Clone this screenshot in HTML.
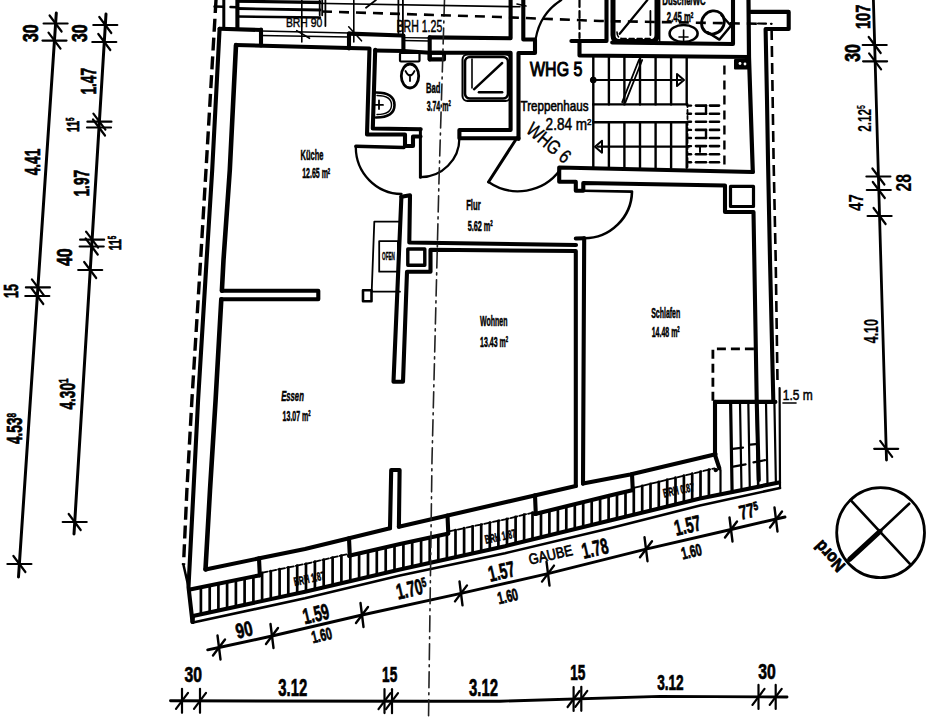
<!DOCTYPE html>
<html><head><meta charset="utf-8"><style>
html,body{margin:0;padding:0;background:#fff;overflow:hidden;}
svg{display:block;}
text{font-family:"Liberation Sans",sans-serif;}
</style></head><body>
<svg width="941" height="720" viewBox="0 0 941 720">
<rect width="941" height="720" fill="#fff"/>
<g stroke="#000" stroke-linecap="round" stroke-linejoin="round" fill="none">
<polyline points="56.3,13.0 18.5,577.0" stroke-width="3" fill="none" />
<polyline points="106.0,14.0 74.0,534.0" stroke-width="3" fill="none" />
<line x1="43.6" y1="23.5" x2="67.6" y2="23.5" stroke-width="2.2" />
<line x1="49.6" y1="15.5" x2="61.6" y2="31.5" stroke-width="2.2" />
<line x1="42.5" y1="40.6" x2="66.5" y2="40.6" stroke-width="2.2" />
<line x1="48.5" y1="32.6" x2="60.5" y2="48.6" stroke-width="2.2" />
<line x1="25.9" y1="287.4" x2="49.9" y2="287.4" stroke-width="2.2" />
<line x1="31.9" y1="279.4" x2="43.9" y2="295.4" stroke-width="2.2" />
<line x1="25.3" y1="296.0" x2="49.3" y2="296.0" stroke-width="2.2" />
<line x1="31.3" y1="288.0" x2="43.3" y2="304.0" stroke-width="2.2" />
<line x1="7.4" y1="564.0" x2="31.4" y2="564.0" stroke-width="2.2" />
<line x1="13.4" y1="556.0" x2="25.4" y2="572.0" stroke-width="2.2" />
<line x1="93.3" y1="25.0" x2="117.3" y2="25.0" stroke-width="2.2" />
<line x1="99.3" y1="17.0" x2="111.3" y2="33.0" stroke-width="2.2" />
<line x1="92.3" y1="42.0" x2="116.3" y2="42.0" stroke-width="2.2" />
<line x1="98.3" y1="34.0" x2="110.3" y2="50.0" stroke-width="2.2" />
<line x1="87.4" y1="121.7" x2="111.4" y2="121.7" stroke-width="2.2" />
<line x1="93.4" y1="113.7" x2="105.4" y2="129.7" stroke-width="2.2" />
<line x1="87.0" y1="127.5" x2="111.0" y2="127.5" stroke-width="2.2" />
<line x1="93.0" y1="119.5" x2="105.0" y2="135.5" stroke-width="2.2" />
<line x1="80.1" y1="239.7" x2="104.1" y2="239.7" stroke-width="2.2" />
<line x1="86.1" y1="231.7" x2="98.1" y2="247.7" stroke-width="2.2" />
<line x1="79.7" y1="246.5" x2="103.7" y2="246.5" stroke-width="2.2" />
<line x1="85.7" y1="238.5" x2="97.7" y2="254.5" stroke-width="2.2" />
<line x1="78.2" y1="270.0" x2="102.2" y2="270.0" stroke-width="2.2" />
<line x1="84.2" y1="262.0" x2="96.2" y2="278.0" stroke-width="2.2" />
<line x1="62.7" y1="522.0" x2="86.7" y2="522.0" stroke-width="2.2" />
<line x1="68.7" y1="514.0" x2="80.7" y2="530.0" stroke-width="2.2" />
<polyline points="873.4,0.0 886.5,460.0" stroke-width="2.8" fill="none" />
<line x1="862.7" y1="45.0" x2="886.7" y2="45.0" stroke-width="2.2" />
<line x1="868.7" y1="37.0" x2="880.7" y2="53.0" stroke-width="2.2" />
<line x1="863.1" y1="61.3" x2="887.1" y2="61.3" stroke-width="2.2" />
<line x1="869.1" y1="53.3" x2="881.1" y2="69.3" stroke-width="2.2" />
<line x1="866.4" y1="176.5" x2="890.4" y2="176.5" stroke-width="2.2" />
<line x1="872.4" y1="168.5" x2="884.4" y2="184.5" stroke-width="2.2" />
<line x1="866.8" y1="190.0" x2="890.8" y2="190.0" stroke-width="2.2" />
<line x1="872.8" y1="182.0" x2="884.8" y2="198.0" stroke-width="2.2" />
<line x1="867.6" y1="216.0" x2="891.6" y2="216.0" stroke-width="2.2" />
<line x1="873.6" y1="208.0" x2="885.6" y2="224.0" stroke-width="2.2" />
<line x1="874.2" y1="448.8" x2="898.2" y2="448.8" stroke-width="2.2" />
<line x1="880.2" y1="440.8" x2="892.2" y2="456.8" stroke-width="2.2" />
<polyline points="170.5,700.8 420.0,701.2 500.0,701.2 660.0,696.4 787.0,697.0" stroke-width="2.9" fill="none" />
<line x1="182.0" y1="688.8" x2="182.0" y2="712.8" stroke-width="2.2" />
<line x1="176.0" y1="708.8" x2="188.0" y2="692.8" stroke-width="2.2" />
<line x1="200.0" y1="688.8" x2="200.0" y2="712.8" stroke-width="2.2" />
<line x1="194.0" y1="708.8" x2="206.0" y2="692.8" stroke-width="2.2" />
<line x1="384.5" y1="689.1" x2="384.5" y2="713.1" stroke-width="2.2" />
<line x1="378.5" y1="709.1" x2="390.5" y2="693.1" stroke-width="2.2" />
<line x1="392.0" y1="689.2" x2="392.0" y2="713.2" stroke-width="2.2" />
<line x1="386.0" y1="709.2" x2="398.0" y2="693.2" stroke-width="2.2" />
<line x1="573.6" y1="687.0" x2="573.6" y2="711.0" stroke-width="2.2" />
<line x1="567.6" y1="707.0" x2="579.6" y2="691.0" stroke-width="2.2" />
<line x1="581.3" y1="686.8" x2="581.3" y2="710.8" stroke-width="2.2" />
<line x1="575.3" y1="706.8" x2="587.3" y2="690.8" stroke-width="2.2" />
<line x1="758.5" y1="684.9" x2="758.5" y2="708.9" stroke-width="2.2" />
<line x1="752.5" y1="704.9" x2="764.5" y2="688.9" stroke-width="2.2" />
<line x1="775.7" y1="684.9" x2="775.7" y2="708.9" stroke-width="2.2" />
<line x1="769.7" y1="704.9" x2="781.7" y2="688.9" stroke-width="2.2" />
<polyline points="207.7,649.8 219.0,647.5 272.0,636.0 362.0,615.0 461.0,593.4 548.0,573.6 646.0,549.2 731.0,529.5 785.0,517.0" stroke-width="2.9" fill="none" />
<line x1="217.5" y1="635.5" x2="220.5" y2="659.5" stroke-width="2.4" />
<line x1="213.0" y1="655.5" x2="225.0" y2="639.5" stroke-width="2.4" />
<line x1="270.5" y1="624.0" x2="273.5" y2="648.0" stroke-width="2.4" />
<line x1="266.0" y1="644.0" x2="278.0" y2="628.0" stroke-width="2.4" />
<line x1="360.5" y1="603.0" x2="363.5" y2="627.0" stroke-width="2.4" />
<line x1="356.0" y1="623.0" x2="368.0" y2="607.0" stroke-width="2.4" />
<line x1="459.5" y1="581.4" x2="462.5" y2="605.4" stroke-width="2.4" />
<line x1="455.0" y1="601.4" x2="467.0" y2="585.4" stroke-width="2.4" />
<line x1="546.5" y1="561.6" x2="549.5" y2="585.6" stroke-width="2.4" />
<line x1="542.0" y1="581.6" x2="554.0" y2="565.6" stroke-width="2.4" />
<line x1="644.5" y1="537.2" x2="647.5" y2="561.2" stroke-width="2.4" />
<line x1="640.0" y1="557.2" x2="652.0" y2="541.2" stroke-width="2.4" />
<line x1="729.5" y1="517.5" x2="732.5" y2="541.5" stroke-width="2.4" />
<line x1="725.0" y1="537.5" x2="737.0" y2="521.5" stroke-width="2.4" />
<line x1="774.5" y1="507.5" x2="777.5" y2="531.5" stroke-width="2.4" />
<line x1="770.0" y1="527.5" x2="782.0" y2="511.5" stroke-width="2.4" />
<polyline points="219.6,28.7 212.2,170.0 206.6,260.0 198.1,400.0 193.5,490.0 188.5,587.0 192.5,622.0" stroke-width="4.1" fill="none" />
<polyline points="216.0,0.0 206.0,170.0 200.6,260.0 191.9,400.0 186.9,490.0 183.5,565.0" stroke-width="3.4" fill="none" stroke-dasharray="13 5.8" stroke-linecap="butt"/>
<polyline points="183.5,565.0 188.5,587.0" stroke-width="2.5" fill="none" />
<polyline points="236.0,45.0 229.8,170.0 223.5,260.0 221.9,290.7" stroke-width="4.6" fill="none" />
<polyline points="221.9,290.7 318.3,290.7 318.3,299.3 221.3,299.3" stroke-width="4.1" fill="none" />
<polyline points="221.3,299.3 215.6,400.0 210.0,490.0 205.5,569.4" stroke-width="4.6" fill="none" />
<polyline points="219.6,28.7 261.0,30.0" stroke-width="4.1" fill="none" />
<line x1="261.0" y1="29.5" x2="261.0" y2="45.5" stroke-width="4.1" />
<line x1="261.0" y1="31.0" x2="349.0" y2="33.0" stroke-width="1.4" />
<line x1="261.0" y1="35.5" x2="349.0" y2="37.0" stroke-width="1.4" />
<polyline points="349.0,33.6 402.4,35.5" stroke-width="4.1" fill="none" />
<line x1="349.0" y1="33.6" x2="349.0" y2="48.5" stroke-width="4.1" />
<line x1="403.4" y1="35.5" x2="403.4" y2="51.3" stroke-width="4.1" />
<line x1="403.4" y1="37.6" x2="429.7" y2="38.0" stroke-width="1.4" />
<line x1="403.4" y1="40.5" x2="429.7" y2="41.0" stroke-width="1.4" />
<line x1="429.7" y1="37.4" x2="429.7" y2="59.4" stroke-width="4.1" />
<polyline points="429.7,37.4 510.6,38.3 510.6,0.0" stroke-width="4.1" fill="none" />
<polyline points="523.3,0.0 523.3,39.5 535.0,39.5 535.0,53.0 518.5,53.0 518.5,139.0" stroke-width="4.1" fill="none" />
<polyline points="236.0,45.0 349.0,48.0 369.5,48.5 367.0,134.5 405.0,134.5 405.0,146.0 413.0,146.0 413.0,136.5 420.5,136.5" stroke-width="4.1" fill="none" />
<polyline points="375.2,49.8 372.8,128.5 420.7,129.2" stroke-width="4.1" fill="none" />
<polyline points="375.2,50.5 403.4,51.0 429.7,52.7 510.6,52.7 510.6,130.0 459.4,130.0 459.4,138.2 518.5,138.2" stroke-width="4.1" fill="none" />
<polygon points="429.7,52.7 444.0,52.7 444.0,59.4 429.7,59.4" stroke-width="4.1" fill="none" />
<rect x="462.5" y="54.5" width="48" height="46.5" rx="5" stroke-width="2"/>
<rect x="465" y="57" width="43" height="41.5" rx="5" stroke-width="2.6"/>
<line x1="474.0" y1="89.3" x2="502.2" y2="63.0" stroke-width="2.4" />
<line x1="478.9" y1="92.2" x2="502.2" y2="92.2" stroke-width="2.4" />
<line x1="472.0" y1="59.0" x2="472.0" y2="88.0" stroke-width="1.6" />
<rect x="400" y="53" width="19.5" height="8.5" rx="1" stroke-width="2.2"/>
<ellipse cx="410" cy="76" rx="8.7" ry="12" stroke-width="2.8"/>
<path d="M405.5,71 q4.5,9 9,0 M410,75 L410,81" stroke-width="1.8"/>
<path d="M376,92.5 Q394.5,92.5 394.5,105 Q394.5,117.5 376,117.5" stroke-width="2.6"/>
<path d="M377,95.5 Q391.5,95.5 391.5,105 Q391.5,114.5 377,114.5" stroke-width="1.4"/>
<line x1="375.5" y1="104.9" x2="383.0" y2="104.9" stroke-width="1.8" />
<line x1="379.0" y1="100.5" x2="379.0" y2="109.0" stroke-width="1.8" />
<path d="M355.8,146.2 L404,147.5" stroke-width="3.4" fill="none" />
<path d="M355.8,147 A46,47 0 0 0 401.5,194" stroke-width="2.3" fill="none" />
<path d="M420.4,129 L420.4,177.2" stroke-width="3" fill="none" />
<path d="M420.4,177.2 A39,39 0 0 0 459.4,138.2" stroke-width="2.3" fill="none" />
<path d="M516.7,138.2 L488.5,182" stroke-width="3" fill="none" />
<path d="M488.5,182 A52,52 0 0 0 560,170" stroke-width="2.3" fill="none" />
<path d="M535.8,38.3 A57,57 0 0 1 561.3,0" stroke-width="2.2" fill="none" />
<path d="M583.3,190.8 L632,191.6 A47.8,47.8 0 0 1 584.2,238.3" stroke-width="2.6" fill="none" />
<polyline points="571.4,41.0 606.5,41.0 606.5,0.0" stroke-width="4.1" fill="none" />
<polyline points="612.2,42.5 733.0,44.0 733.0,0.0" stroke-width="4.1" fill="none" />
<line x1="579.5" y1="0.0" x2="579.5" y2="38.0" stroke-width="2.2" stroke-dasharray="7 4"/>
<polyline points="579.5,41.0 579.5,55.5 749.0,57.0" stroke-width="4.1" fill="none" />
<polyline points="748.5,0.0 749.0,57.0 752.8,172.0" stroke-width="4.2" fill="none" />
<polyline points="750.8,11.9 788.7,11.9 788.7,29.0 765.6,29.0 767.0,100.0 768.0,160.0 770.0,260.0 773.3,400.0" stroke-width="4.1" fill="none" />
<polyline points="758.0,23.5 771.6,23.8" stroke-width="2.2" fill="none" stroke-dasharray="8 5"/>
<polyline points="771.6,29.0 773.6,160.0 775.7,260.0 777.5,382.0" stroke-width="2.6" fill="none" stroke-dasharray="11 6" stroke-linecap="butt"/>
<line x1="593.3" y1="57.0" x2="593.3" y2="104.4" stroke-width="2.4" />
<line x1="593.3" y1="122.2" x2="593.3" y2="167.8" stroke-width="2.4" />
<line x1="608.9" y1="57.0" x2="608.9" y2="104.4" stroke-width="2.4" />
<line x1="608.9" y1="122.2" x2="608.9" y2="167.8" stroke-width="2.4" />
<line x1="624.4" y1="57.0" x2="624.4" y2="104.4" stroke-width="2.4" />
<line x1="624.4" y1="122.2" x2="624.4" y2="167.8" stroke-width="2.4" />
<line x1="640.0" y1="57.0" x2="640.0" y2="104.4" stroke-width="2.4" />
<line x1="640.0" y1="122.2" x2="640.0" y2="167.8" stroke-width="2.4" />
<line x1="655.6" y1="57.0" x2="655.6" y2="104.4" stroke-width="2.4" />
<line x1="655.6" y1="122.2" x2="655.6" y2="167.8" stroke-width="2.4" />
<line x1="671.1" y1="57.0" x2="671.1" y2="104.4" stroke-width="2.4" />
<line x1="671.1" y1="122.2" x2="671.1" y2="167.8" stroke-width="2.4" />
<line x1="686.7" y1="57.0" x2="686.7" y2="104.4" stroke-width="2.4" />
<line x1="686.7" y1="122.2" x2="686.7" y2="167.8" stroke-width="2.4" />
<line x1="593.3" y1="104.4" x2="593.3" y2="122.2" stroke-width="2.4" />
<line x1="593.3" y1="104.4" x2="686.7" y2="104.4" stroke-width="2.4" />
<line x1="593.3" y1="122.2" x2="686.7" y2="122.2" stroke-width="2.4" />
<line x1="596.0" y1="80.0" x2="681.0" y2="80.0" stroke-width="2.2" />
<circle cx="593.3" cy="80" r="3" fill="#000" stroke-width="1"/>
<path d="M677,74 L684,80 L677,86 Z" stroke-width="2" fill="none" />
<line x1="598.0" y1="146.7" x2="688.9" y2="146.7" stroke-width="2.2" />
<path d="M602,140.7 L595,146.7 L602,152.7 Z" stroke-width="2" fill="none" />
<line x1="622.2" y1="102.2" x2="638.9" y2="60.0" stroke-width="1.8" />
<line x1="625.5" y1="102.2" x2="642.2" y2="60.0" stroke-width="1.8" />
<line x1="724.4" y1="65.5" x2="724.4" y2="166.7" stroke-width="2.4" stroke-dasharray="9 6" stroke-linecap="butt"/>
<line x1="687.5" y1="105.6" x2="691.0" y2="105.6" stroke-width="2.4" />
<line x1="696.0" y1="105.6" x2="706.0" y2="105.6" stroke-width="2.6" />
<line x1="710.0" y1="105.6" x2="719.0" y2="105.6" stroke-width="2.6" />
<line x1="687.5" y1="113.7" x2="691.0" y2="113.7" stroke-width="2.4" />
<line x1="696.0" y1="113.7" x2="706.0" y2="113.7" stroke-width="2.6" />
<line x1="710.0" y1="113.7" x2="719.0" y2="113.7" stroke-width="2.6" />
<line x1="687.5" y1="121.8" x2="691.0" y2="121.8" stroke-width="2.4" />
<line x1="696.0" y1="121.8" x2="706.0" y2="121.8" stroke-width="2.6" />
<line x1="710.0" y1="121.8" x2="719.0" y2="121.8" stroke-width="2.6" />
<line x1="687.5" y1="129.9" x2="691.0" y2="129.9" stroke-width="2.4" />
<line x1="696.0" y1="129.9" x2="706.0" y2="129.9" stroke-width="2.6" />
<line x1="710.0" y1="129.9" x2="719.0" y2="129.9" stroke-width="2.6" />
<line x1="687.5" y1="138.0" x2="691.0" y2="138.0" stroke-width="2.4" />
<line x1="696.0" y1="138.0" x2="706.0" y2="138.0" stroke-width="2.6" />
<line x1="710.0" y1="138.0" x2="719.0" y2="138.0" stroke-width="2.6" />
<line x1="687.5" y1="146.1" x2="691.0" y2="146.1" stroke-width="2.4" />
<line x1="696.0" y1="146.1" x2="706.0" y2="146.1" stroke-width="2.6" />
<line x1="710.0" y1="146.1" x2="719.0" y2="146.1" stroke-width="2.6" />
<line x1="687.5" y1="154.2" x2="691.0" y2="154.2" stroke-width="2.4" />
<line x1="696.0" y1="154.2" x2="706.0" y2="154.2" stroke-width="2.6" />
<line x1="710.0" y1="154.2" x2="719.0" y2="154.2" stroke-width="2.6" />
<line x1="687.5" y1="162.3" x2="691.0" y2="162.3" stroke-width="2.4" />
<line x1="696.0" y1="162.3" x2="706.0" y2="162.3" stroke-width="2.6" />
<line x1="710.0" y1="162.3" x2="719.0" y2="162.3" stroke-width="2.6" />
<line x1="687.5" y1="104.0" x2="687.5" y2="168.0" stroke-width="1.8" stroke-dasharray="3 3"/>
<line x1="706.0" y1="105.6" x2="706.0" y2="113.7" stroke-width="2.4" />
<line x1="706.0" y1="129.9" x2="706.0" y2="138.0" stroke-width="2.4" />
<line x1="700.0" y1="146.9" x2="700.0" y2="152.0" stroke-width="2.0" />
<rect x="735" y="60" width="14" height="8.5" fill="#000" stroke-width="2"/>
<circle cx="740" cy="63.5" r="1.4" fill="#fff" stroke="none"/><circle cx="745" cy="64" r="1.4" fill="#fff" stroke="none"/>
<polyline points="752.8,172.0 559.2,167.5 559.2,181.7 575.8,181.7 575.8,190.8 583.3,190.8 583.3,183.0 725.0,185.5 725.0,212.0 753.5,212.0 756.7,400.0 758.8,480.0" stroke-width="4.1" fill="none" />
<rect x="730.5" y="186.4" width="23" height="20.1" stroke-width="3.2"/>
<path d="M613,-5 L613,35 Q613,41.4 619,41.4 L651,41.4 Q657,41.4 657,35 L657,-5" stroke-width="5"/>
<path d="M617,32 Q617,38.5 623,38.5 L650,38.5" stroke-width="1.6" stroke-dasharray="5 3"/>
<line x1="650.4" y1="11.0" x2="650.4" y2="35.0" stroke-width="1.8" />
<line x1="659.5" y1="0.0" x2="659.5" y2="42.0" stroke-width="1.8" />
<line x1="619.7" y1="33.8" x2="647.4" y2="0.0" stroke-width="2.2" />
<ellipse cx="683.6" cy="33.5" rx="14" ry="8.5" stroke-width="2.6"/>
<line x1="683.6" y1="30.0" x2="683.6" y2="42.0" stroke-width="1.6" />
<line x1="679.0" y1="37.0" x2="688.0" y2="37.0" stroke-width="1.6" />
<g transform="translate(716,25) rotate(40)"><ellipse cx="-4" cy="0" rx="11" ry="12" stroke-width="2.8"/><path d="M-2,-11 L12,-9 L12,9 L-2,11" stroke-width="2.4"/></g>
<polyline points="401.4,196.7 410.0,195.3 409.3,242.5 576.0,245.0" stroke-width="4.1" fill="none" />
<polyline points="401.4,196.7 393.5,381.7 403.0,381.7 407.0,271.7 430.5,271.7 430.5,249.8 575.8,251.0 575.8,486.0" stroke-width="4.1" fill="none" />
<rect x="407.8" y="249" width="17" height="16.2" stroke-width="3.4"/>
<polyline points="584.2,238.3 583.0,483.6" stroke-width="4.1" fill="none" />
<line x1="575.8" y1="238.5" x2="584.2" y2="238.3" stroke-width="4.1" />
<polyline points="398.6,221.7 374.3,221.7 371.7,291.7 400.0,291.7" stroke-width="1.8" fill="none" />
<rect x="379.2" y="241.1" width="18.7" height="30.6" stroke-width="1.8"/>
<rect x="363" y="290.3" width="8.5" height="11" stroke-width="2.6"/>
<polyline points="390.0,528.3 391.2,470.0 399.6,470.0 398.9,526.7" stroke-width="4.1" fill="none" />
<polyline points="190.0,589.5 259.0,575.4" stroke-width="4.1" fill="none" />
<polyline points="349.0,555.8 400.0,543.9 447.5,533.7" stroke-width="4.1" fill="none" />
<polyline points="535.0,514.0 610.0,495.6 632.0,490.3" stroke-width="4.1" fill="none" />
<polyline points="715.6,470.1 716.0,470.0" stroke-width="4.1" fill="none" />
<polyline points="260.5,573.1 305.0,564.0 348.0,554.0" stroke-width="1.8" fill="none" stroke-dasharray="7 2"/>
<polyline points="449.0,531.4 505.0,519.4 534.0,512.3" stroke-width="1.8" fill="none" stroke-dasharray="7 2"/>
<polyline points="633.5,487.9 700.0,471.8 714.6,468.3" stroke-width="1.8" fill="none" stroke-dasharray="7 2"/>
<polyline points="193.0,616.0 305.0,591.7 400.0,569.4 505.0,546.2 610.0,520.5 700.0,498.5 779.0,482.5" stroke-width="4.1" fill="none" />
<polyline points="193.0,622.5 305.0,598.3 400.0,575.5 505.0,553.2 610.0,528.2 700.0,505.5 780.0,488.0" stroke-width="2.6" fill="none" />
<line x1="192.5" y1="622.0" x2="193.0" y2="616.0" stroke-width="4.1" />
<polyline points="205.5,569.4 305.0,548.9 390.0,528.3" stroke-width="4.1" fill="none" />
<polyline points="398.9,526.7 575.8,486.0" stroke-width="4.1" fill="none" />
<polyline points="583.0,483.6 630.2,474.6 715.6,454.2" stroke-width="4.1" fill="none" />
<line x1="259.0" y1="558.4" x2="259.8" y2="575.4" stroke-width="4.1" />
<line x1="349.0" y1="538.2" x2="349.8" y2="555.8" stroke-width="4.1" />
<line x1="447.5" y1="515.5" x2="448.3" y2="533.7" stroke-width="4.1" />
<line x1="535.0" y1="495.4" x2="535.8" y2="514.0" stroke-width="4.1" />
<line x1="632.0" y1="474.2" x2="632.8" y2="490.3" stroke-width="4.1" />
<line x1="200.9" y1="588.3" x2="200.9" y2="613.3" stroke-width="2.7" />
<line x1="209.7" y1="586.5" x2="209.7" y2="611.4" stroke-width="2.7" />
<line x1="218.4" y1="584.7" x2="218.4" y2="609.5" stroke-width="2.7" />
<line x1="227.1" y1="582.9" x2="227.1" y2="607.6" stroke-width="2.7" />
<line x1="235.9" y1="581.1" x2="235.9" y2="605.7" stroke-width="2.7" />
<line x1="244.6" y1="579.3" x2="244.6" y2="603.8" stroke-width="2.7" />
<line x1="253.4" y1="577.6" x2="253.4" y2="601.9" stroke-width="2.7" />
<line x1="262.1" y1="572.8" x2="262.1" y2="600.0" stroke-width="2.7" />
<line x1="270.8" y1="571.0" x2="270.8" y2="598.1" stroke-width="2.7" />
<line x1="279.6" y1="569.2" x2="279.6" y2="596.2" stroke-width="2.7" />
<line x1="288.3" y1="567.4" x2="288.3" y2="594.3" stroke-width="2.7" />
<line x1="297.2" y1="565.6" x2="297.2" y2="592.4" stroke-width="2.7" />
<line x1="306.0" y1="563.8" x2="306.0" y2="590.5" stroke-width="2.7" />
<line x1="314.9" y1="561.7" x2="314.9" y2="588.4" stroke-width="2.7" />
<line x1="323.7" y1="559.6" x2="323.7" y2="586.3" stroke-width="2.7" />
<line x1="332.6" y1="557.6" x2="332.6" y2="584.2" stroke-width="2.7" />
<line x1="341.4" y1="555.5" x2="341.4" y2="582.2" stroke-width="2.7" />
<line x1="350.3" y1="556.5" x2="350.3" y2="580.1" stroke-width="2.7" />
<line x1="359.1" y1="554.4" x2="359.1" y2="578.0" stroke-width="2.7" />
<line x1="368.0" y1="552.3" x2="368.0" y2="575.9" stroke-width="2.7" />
<line x1="376.8" y1="550.3" x2="376.8" y2="573.8" stroke-width="2.7" />
<line x1="385.7" y1="548.2" x2="385.7" y2="571.8" stroke-width="2.7" />
<line x1="394.5" y1="546.2" x2="394.5" y2="569.7" stroke-width="2.7" />
<line x1="403.4" y1="544.2" x2="403.4" y2="567.7" stroke-width="2.7" />
<line x1="412.2" y1="542.3" x2="412.2" y2="565.7" stroke-width="2.7" />
<line x1="421.1" y1="540.4" x2="421.1" y2="563.7" stroke-width="2.7" />
<line x1="429.7" y1="538.5" x2="429.7" y2="561.9" stroke-width="2.7" />
<line x1="438.3" y1="536.7" x2="438.3" y2="560.0" stroke-width="2.7" />
<line x1="446.9" y1="534.9" x2="446.9" y2="558.1" stroke-width="2.7" />
<line x1="455.5" y1="530.0" x2="455.5" y2="556.2" stroke-width="2.7" />
<line x1="464.1" y1="528.2" x2="464.1" y2="554.3" stroke-width="2.7" />
<line x1="472.6" y1="526.3" x2="472.6" y2="552.4" stroke-width="2.7" />
<line x1="481.2" y1="524.5" x2="481.2" y2="550.5" stroke-width="2.7" />
<line x1="489.8" y1="522.7" x2="489.8" y2="548.6" stroke-width="2.7" />
<line x1="498.4" y1="520.8" x2="498.4" y2="546.7" stroke-width="2.7" />
<line x1="507.0" y1="518.9" x2="507.0" y2="544.8" stroke-width="2.7" />
<line x1="515.6" y1="516.8" x2="515.6" y2="542.7" stroke-width="2.7" />
<line x1="524.1" y1="514.7" x2="524.1" y2="540.6" stroke-width="2.7" />
<line x1="532.5" y1="512.6" x2="532.5" y2="538.5" stroke-width="2.7" />
<line x1="541.0" y1="513.6" x2="541.0" y2="536.4" stroke-width="2.7" />
<line x1="549.4" y1="511.5" x2="549.4" y2="534.4" stroke-width="2.7" />
<line x1="557.9" y1="509.4" x2="557.9" y2="532.3" stroke-width="2.7" />
<line x1="566.3" y1="507.3" x2="566.3" y2="530.2" stroke-width="2.7" />
<line x1="574.8" y1="505.3" x2="574.8" y2="528.1" stroke-width="2.7" />
<line x1="583.2" y1="503.2" x2="583.2" y2="526.1" stroke-width="2.7" />
<line x1="591.7" y1="501.1" x2="591.7" y2="524.0" stroke-width="2.7" />
<line x1="600.1" y1="499.0" x2="600.1" y2="521.9" stroke-width="2.7" />
<line x1="608.6" y1="496.9" x2="608.6" y2="519.8" stroke-width="2.7" />
<line x1="617.0" y1="494.9" x2="617.0" y2="517.8" stroke-width="2.7" />
<line x1="625.5" y1="492.8" x2="625.5" y2="515.7" stroke-width="2.7" />
<line x1="633.8" y1="487.8" x2="633.8" y2="513.7" stroke-width="2.7" />
<line x1="642.2" y1="485.8" x2="642.2" y2="511.6" stroke-width="2.7" />
<line x1="650.5" y1="483.8" x2="650.5" y2="509.6" stroke-width="2.7" />
<line x1="658.8" y1="481.8" x2="658.8" y2="507.6" stroke-width="2.7" />
<line x1="667.2" y1="479.7" x2="667.2" y2="505.5" stroke-width="2.7" />
<line x1="675.5" y1="477.7" x2="675.5" y2="503.5" stroke-width="2.7" />
<line x1="683.9" y1="475.7" x2="683.9" y2="501.4" stroke-width="2.7" />
<line x1="692.2" y1="473.7" x2="692.2" y2="499.4" stroke-width="2.7" />
<line x1="700.5" y1="471.7" x2="700.5" y2="497.4" stroke-width="2.7" />
<line x1="708.9" y1="469.7" x2="708.9" y2="495.7" stroke-width="2.7" />
<line x1="715.0" y1="401.9" x2="775.4" y2="401.9" stroke-width="4.1" />
<polyline points="715.0,401.9 715.0,455.0 719.4,468.3" stroke-width="4.1" fill="none" />
<line x1="730.6" y1="402.0" x2="732.1" y2="492.3" stroke-width="3.2" />
<line x1="740.0" y1="402.0" x2="741.5" y2="490.4" stroke-width="2.2" />
<line x1="748.3" y1="402.0" x2="749.8" y2="488.7" stroke-width="2.2" />
<line x1="756.7" y1="402.0" x2="758.2" y2="487.0" stroke-width="2.6" />
<line x1="766.0" y1="402.0" x2="767.5" y2="485.1" stroke-width="2.2" />
<line x1="774.4" y1="402.0" x2="775.9" y2="483.4" stroke-width="2.2" />
<line x1="720.5" y1="470.0" x2="720.5" y2="494.3" stroke-width="2.2" />
<line x1="779.6" y1="388.0" x2="780.0" y2="488.0" stroke-width="2.2" />
<line x1="732.7" y1="448.8" x2="743.0" y2="447.7" stroke-width="2.2" />
<line x1="750.4" y1="444.6" x2="755.6" y2="444.2" stroke-width="2.2" />
<line x1="753.5" y1="462.3" x2="765.0" y2="460.2" stroke-width="2.2" />
<line x1="733.3" y1="466.7" x2="745.6" y2="464.4" stroke-width="2.2" />
<polyline points="712.9,400.8 712.9,348.8 754.6,348.8" stroke-width="2.8" fill="none" stroke-dasharray="9 5" stroke-linecap="butt"/>
<line x1="783.0" y1="403.0" x2="796.0" y2="403.0" stroke-width="1.6" />
<polyline points="444.5,0.0 439.0,180.0 432.0,460.0 428.5,720.0" stroke-width="1.6" fill="none" stroke-dasharray="16 5 2 5" stroke="#222"/>
<line x1="237.4" y1="0.0" x2="237.4" y2="28.7" stroke-width="4.1" />
<line x1="237.4" y1="8.5" x2="320.0" y2="10.0" stroke-width="2.8" />
<line x1="237.4" y1="16.5" x2="320.0" y2="17.5" stroke-width="2.4" />
<line x1="237.4" y1="2.0" x2="520.0" y2="6.8" stroke-width="1.6" />
<polyline points="322.0,11.5 500.0,17.0 600.0,21.0 760.0,23.8" stroke-width="2.6" fill="none" stroke-dasharray="10 7" stroke-linecap="butt"/>
<line x1="301.8" y1="0.0" x2="301.8" y2="42.0" stroke-width="1.6" />
<line x1="296.7" y1="30.6" x2="309.5" y2="38.3" stroke-width="1.6" />
<line x1="353.8" y1="0.0" x2="353.8" y2="42.0" stroke-width="1.6" />
<line x1="348.7" y1="26.8" x2="361.5" y2="40.8" stroke-width="1.6" />
<line x1="319.7" y1="0.0" x2="319.7" y2="15.3" stroke-width="1.8" />
<line x1="322.2" y1="0.0" x2="322.2" y2="15.3" stroke-width="1.8" />
<line x1="325.4" y1="0.0" x2="325.4" y2="26.0" stroke-width="1.8" />
<line x1="398.4" y1="0.0" x2="398.4" y2="33.0" stroke-width="1.8" />
<line x1="402.9" y1="0.0" x2="402.9" y2="35.0" stroke-width="1.8" />
<line x1="366.0" y1="7.7" x2="376.0" y2="0.0" stroke-width="1.8" />
<line x1="223.8" y1="0.0" x2="223.8" y2="28.0" stroke-width="3" />
<line x1="214.5" y1="6.5" x2="237.0" y2="7.2" stroke-width="2.4" stroke-dasharray="9 7"/>
<line x1="237.4" y1="1.0" x2="320.0" y2="2.0" stroke-width="2.6" />
<line x1="517.0" y1="4.0" x2="526.0" y2="6.0" stroke-width="1.6" />
<ellipse cx="880.6" cy="532.7" rx="43.9" ry="45" stroke-width="2.8"/>
<line x1="850.4" y1="499.9" x2="910.8" y2="564.8" stroke-width="2.6" />
<line x1="909.2" y1="503.7" x2="880.0" y2="531.3" stroke-width="2.6" />
<line x1="880.0" y1="531.3" x2="849.6" y2="559.4" stroke-width="5" />
</g>
<g fill="#000" stroke="none" font-family="Liberation Sans, sans-serif">
<text transform="translate(30.5,33.2) rotate(-90) scale(0.72,1)" x="0" y="7.92" font-size="22" font-weight="bold" text-anchor="middle" stroke="#000" stroke-width="0.7">30</text>
<text transform="translate(79.5,33.2) rotate(-90) scale(0.72,1)" x="0" y="7.92" font-size="22" font-weight="bold" text-anchor="middle" stroke="#000" stroke-width="0.7">30</text>
<text transform="translate(87.8,81.3) rotate(-90) scale(0.62,1)" x="0" y="7.92" font-size="22" font-weight="bold" text-anchor="middle" stroke="#000" stroke-width="0.7">1.47</text>
<text transform="translate(32.1,162.0) rotate(-90) scale(0.62,1)" x="0" y="7.92" font-size="22" font-weight="bold" text-anchor="middle" stroke="#000" stroke-width="0.7">4.41</text>
<text transform="translate(72.8,124.7) rotate(-90) scale(0.62,1)" x="0" y="6.12" font-size="17" font-weight="bold" text-anchor="middle" stroke="#000" stroke-width="0.7">11<tspan font-size="0.6em" dy="-0.5em">5</tspan></text>
<text transform="translate(80.7,183.2) rotate(-90) scale(0.62,1)" x="0" y="7.92" font-size="22" font-weight="bold" text-anchor="middle" stroke="#000" stroke-width="0.7">1.97</text>
<text transform="translate(115.0,243.0) rotate(-90) scale(0.62,1)" x="0" y="6.12" font-size="17" font-weight="bold" text-anchor="middle" stroke="#000" stroke-width="0.7">11<tspan font-size="0.6em" dy="-0.5em">5</tspan></text>
<text transform="translate(64.5,257.2) rotate(-90) scale(0.72,1)" x="0" y="7.92" font-size="22" font-weight="bold" text-anchor="middle" stroke="#000" stroke-width="0.7">40</text>
<text transform="translate(11.0,291.0) rotate(-90) scale(0.62,1)" x="0" y="7.20" font-size="20" font-weight="bold" text-anchor="middle" stroke="#000" stroke-width="0.7">15</text>
<text transform="translate(67.0,394.0) rotate(-90) scale(0.62,1)" x="0" y="7.92" font-size="22" font-weight="bold" text-anchor="middle" stroke="#000" stroke-width="0.7">4.30<tspan font-size="0.6em" dy="-0.5em">1</tspan></text>
<text transform="translate(14.5,428.5) rotate(-90) scale(0.62,1)" x="0" y="7.92" font-size="22" font-weight="bold" text-anchor="middle" stroke="#000" stroke-width="0.7">4.53<tspan font-size="0.6em" dy="-0.5em">8</tspan></text>
<text transform="translate(862.2,16.8) rotate(-90) scale(0.7,1)" x="0" y="7.56" font-size="21" font-weight="bold" text-anchor="middle" stroke="#000" stroke-width="0.7">107</text>
<text transform="translate(851.7,53.0) rotate(-90) scale(0.72,1)" x="0" y="7.92" font-size="22" font-weight="bold" text-anchor="middle" stroke="#000" stroke-width="0.7">30</text>
<text transform="translate(864.0,118.4) rotate(-90) scale(0.62,1)" x="0" y="6.84" font-size="19" font-weight="bold" text-anchor="middle" stroke="#000" stroke-width="0.2">2.12<tspan font-size="0.6em" dy="-0.5em">5</tspan></text>
<text transform="translate(903.3,182.8) rotate(-90) scale(0.72,1)" x="0" y="7.92" font-size="22" font-weight="bold" text-anchor="middle" stroke="#000" stroke-width="0.2">28</text>
<text transform="translate(855.7,202.5) rotate(-90) scale(0.72,1)" x="0" y="7.56" font-size="21" font-weight="bold" text-anchor="middle" stroke="#000" stroke-width="0.2">47</text>
<text transform="translate(871.2,331.2) rotate(-90) scale(0.62,1)" x="0" y="7.20" font-size="20" font-weight="bold" text-anchor="middle" stroke="#000" stroke-width="0.2">4.10</text>
<text transform="translate(193.2,674.2) rotate(0) scale(0.7,1)" x="0" y="8.10" font-size="22.5" font-weight="bold" text-anchor="middle" stroke="#000" stroke-width="0.7">30</text>
<text transform="translate(292.7,687.2) rotate(0) scale(0.62,1)" x="0" y="8.64" font-size="24" font-weight="bold" text-anchor="middle" stroke="#000" stroke-width="0.7">3.12</text>
<text transform="translate(389.7,674.0) rotate(0) scale(0.62,1)" x="0" y="7.92" font-size="22" font-weight="bold" text-anchor="middle" stroke="#000" stroke-width="0.7">15</text>
<text transform="translate(483.5,687.7) rotate(0) scale(0.62,1)" x="0" y="8.64" font-size="24" font-weight="bold" text-anchor="middle" stroke="#000" stroke-width="0.7">3.12</text>
<text transform="translate(577.8,672.5) rotate(0) scale(0.62,1)" x="0" y="7.92" font-size="22" font-weight="bold" text-anchor="middle" stroke="#000" stroke-width="0.7">15</text>
<text transform="translate(670.4,682.5) rotate(0) scale(0.62,1)" x="0" y="7.92" font-size="22" font-weight="bold" text-anchor="middle" stroke="#000" stroke-width="0.7">3.12</text>
<text transform="translate(767.1,670.8) rotate(0) scale(0.7,1)" x="0" y="8.10" font-size="22.5" font-weight="bold" text-anchor="middle" stroke="#000" stroke-width="0.7">30</text>
<text transform="translate(244.0,629.5) rotate(-13) scale(0.72,1)" x="0" y="7.56" font-size="21" font-weight="bold" text-anchor="middle" stroke="#000" stroke-width="0.7">90</text>
<text transform="translate(315.8,613.5) rotate(-13) scale(0.62,1)" x="0" y="7.92" font-size="22" font-weight="bold" text-anchor="middle" stroke="#000" stroke-width="0.7">1.59</text>
<text transform="translate(321.5,635.0) rotate(-13) scale(0.62,1)" x="0" y="6.12" font-size="17" font-weight="bold" text-anchor="middle" stroke="#000" stroke-width="0.7">1.60</text>
<text transform="translate(411.5,588.3) rotate(-13) scale(0.62,1)" x="0" y="7.92" font-size="22" font-weight="bold" text-anchor="middle" stroke="#000" stroke-width="0.7">1.70<tspan font-size="0.6em" dy="-0.5em">5</tspan></text>
<text transform="translate(501.4,571.0) rotate(-13) scale(0.62,1)" x="0" y="7.92" font-size="22" font-weight="bold" text-anchor="middle" stroke="#000" stroke-width="0.7">1.57</text>
<text transform="translate(507.7,596.0) rotate(-13) scale(0.62,1)" x="0" y="6.12" font-size="17" font-weight="bold" text-anchor="middle" stroke="#000" stroke-width="0.7">1.60</text>
<text transform="translate(550.5,554.5) rotate(-13) scale(0.85,1)" x="0" y="5.40" font-size="15" font-weight="normal" text-anchor="middle" stroke="#000" stroke-width="0.7">GAUBE</text>
<text transform="translate(594.9,548.0) rotate(-13) scale(0.62,1)" x="0" y="7.92" font-size="22" font-weight="bold" text-anchor="middle" stroke="#000" stroke-width="0.7">1.78</text>
<text transform="translate(687.5,525.0) rotate(-13) scale(0.62,1)" x="0" y="7.92" font-size="22" font-weight="bold" text-anchor="middle" stroke="#000" stroke-width="0.7">1.57</text>
<text transform="translate(691.4,551.2) rotate(-13) scale(0.62,1)" x="0" y="6.12" font-size="17" font-weight="bold" text-anchor="middle" stroke="#000" stroke-width="0.7">1.60</text>
<text transform="translate(748.9,510.5) rotate(-13) scale(0.68,1)" x="0" y="7.20" font-size="20" font-weight="bold" text-anchor="middle" stroke="#000" stroke-width="0.7">77<tspan font-size="0.6em" dy="-0.5em">5</tspan></text>
<text transform="translate(312.0,154.2) rotate(0) scale(0.5,1)" x="0" y="5.40" font-size="15" font-weight="bold" text-anchor="middle" stroke="#000" stroke-width="0.5">Küche</text>
<text transform="translate(316.2,173.3) rotate(0) scale(0.5,1)" x="0" y="5.04" font-size="14" font-weight="bold" text-anchor="middle" stroke="#000" stroke-width="0.5">12.65 m<tspan font-size="0.6em" dy="-0.55em">2</tspan></text>
<text transform="translate(433.3,87.8) rotate(0) scale(0.55,1)" x="0" y="5.04" font-size="14" font-weight="bold" text-anchor="middle" stroke="#000" stroke-width="0.5">Bad</text>
<text transform="translate(438.7,105.8) rotate(0) scale(0.5,1)" x="0" y="5.04" font-size="14" font-weight="bold" text-anchor="middle" stroke="#000" stroke-width="0.5">3.74 m<tspan font-size="0.6em" dy="-0.55em">2</tspan></text>
<text transform="translate(473.4,205.3) rotate(0) scale(0.55,1)" x="0" y="5.04" font-size="14" font-weight="bold" text-anchor="middle" stroke="#000" stroke-width="0.5">Flur</text>
<text transform="translate(480.2,225.8) rotate(0) scale(0.52,1)" x="0" y="5.04" font-size="14" font-weight="bold" text-anchor="middle" stroke="#000" stroke-width="0.5">5.62 m<tspan font-size="0.6em" dy="-0.55em">2</tspan></text>
<text transform="translate(292.5,395.9) rotate(0) scale(0.55,1)" x="0" y="5.04" font-size="14" font-weight="bold" text-anchor="middle" font-style="italic" stroke="#000" stroke-width="0.5">Essen</text>
<text transform="translate(296.6,415.8) rotate(0) scale(0.5,1)" x="0" y="5.04" font-size="14" font-weight="bold" text-anchor="middle" stroke="#000" stroke-width="0.5">13.07 m<tspan font-size="0.6em" dy="-0.55em">2</tspan></text>
<text transform="translate(493.8,320.9) rotate(0) scale(0.5,1)" x="0" y="5.04" font-size="14" font-weight="bold" text-anchor="middle" stroke="#000" stroke-width="0.5">Wohnen</text>
<text transform="translate(494.1,341.6) rotate(0) scale(0.5,1)" x="0" y="5.04" font-size="14" font-weight="bold" text-anchor="middle" stroke="#000" stroke-width="0.5">13.43 m<tspan font-size="0.6em" dy="-0.55em">2</tspan></text>
<text transform="translate(665.7,312.5) rotate(0) scale(0.5,1)" x="0" y="5.04" font-size="14" font-weight="bold" text-anchor="middle" stroke="#000" stroke-width="0.5">Schlafen</text>
<text transform="translate(665.7,331.6) rotate(0) scale(0.5,1)" x="0" y="5.04" font-size="14" font-weight="bold" text-anchor="middle" stroke="#000" stroke-width="0.5">14.48 m<tspan font-size="0.6em" dy="-0.55em">2</tspan></text>
<text transform="translate(556.2,68.0) rotate(0) scale(0.76,1)" x="0" y="7.56" font-size="21" font-weight="normal" text-anchor="middle" stroke="#000" stroke-width="1.1">WHG 5</text>
<text transform="translate(554.5,105.9) rotate(0) scale(0.8,1)" x="0" y="5.22" font-size="14.5" font-weight="normal" text-anchor="middle" stroke="#000" stroke-width="0.6">Treppenhaus</text>
<text transform="translate(568.6,124.5) rotate(0) scale(0.85,1)" x="0" y="5.76" font-size="16" font-weight="normal" text-anchor="middle" stroke="#000" stroke-width="0.5">2.84 m<tspan font-size="0.6em" dy="-0.55em">2</tspan></text>
<text transform="translate(549.0,142.5) rotate(40) scale(0.8,1)" x="0" y="7.02" font-size="19.5" font-weight="normal" text-anchor="middle" stroke="#000" stroke-width="0.4">WHG 6</text>
<text transform="translate(680.1,17.1) rotate(0) scale(0.55,1)" x="0" y="5.04" font-size="14" font-weight="bold" text-anchor="middle" stroke="#000" stroke-width="0.5">2.45 m<tspan font-size="0.6em" dy="-0.55em">2</tspan></text>
<text transform="translate(684.0,0.5) rotate(0) scale(0.6,1)" x="0" y="4.68" font-size="13" font-weight="bold" text-anchor="middle" stroke="#000" stroke-width="0.5">Dusche/WC</text>
<text transform="translate(797.8,394.1) rotate(0) scale(0.8,1)" x="0" y="5.40" font-size="15" font-weight="normal" text-anchor="middle" stroke="#000" stroke-width="0.5">1.5 m</text>
<text transform="translate(829.5,556.5) rotate(227) scale(0.9,1)" x="0" y="6.12" font-size="17" font-weight="bold" text-anchor="middle" stroke="#000" stroke-width="0.8">Nord</text>
<text transform="translate(304.1,22.6) rotate(0) scale(0.8,1)" x="0" y="4.68" font-size="13" font-weight="normal" text-anchor="middle" stroke="#000" stroke-width="0.4">BRH 90</text>
<text transform="translate(419.4,25.8) rotate(0) scale(0.66,1)" x="0" y="5.76" font-size="16" font-weight="normal" text-anchor="middle" stroke="#000" stroke-width="0.5">BRH 1.25</text>
<text transform="translate(309.3,578.5) rotate(-12) scale(0.6,1)" x="0" y="4.32" font-size="12" font-weight="bold" text-anchor="middle" stroke="#000" stroke-width="0.5">BRH 1.87</text>
<text transform="translate(500.2,536.3) rotate(-12) scale(0.6,1)" x="0" y="4.32" font-size="12" font-weight="bold" text-anchor="middle" stroke="#000" stroke-width="0.5">BRH 1.87</text>
<text transform="translate(678.6,489.9) rotate(-12) scale(0.6,1)" x="0" y="4.32" font-size="12" font-weight="bold" text-anchor="middle" stroke="#000" stroke-width="0.5">BRH 0.87</text>
<text transform="translate(388.5,256.4) rotate(0) scale(0.42,1)" x="0" y="3.96" font-size="11" font-weight="bold" text-anchor="middle" stroke="#000" stroke-width="0.4">OFEN</text>
</g>
</svg>
</body></html>
